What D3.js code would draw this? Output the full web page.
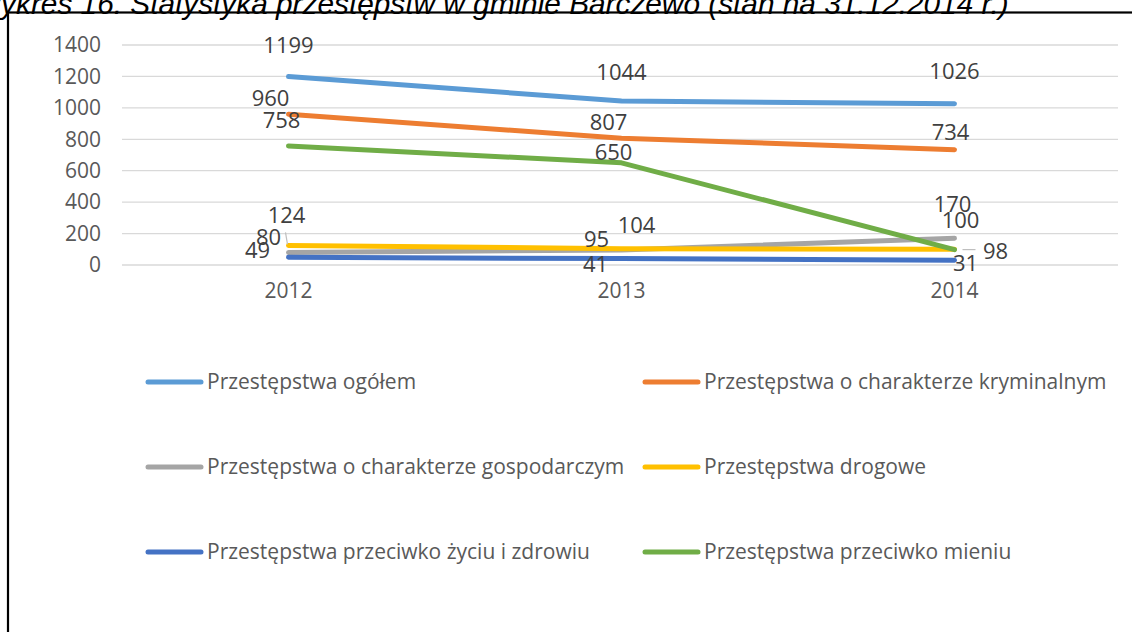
<!DOCTYPE html>
<html>
<head>
<meta charset="utf-8">
<script src="https://cdn.jsdelivr.net/npm/d3@7"></script>
<style>
	body { margin: 0; background: #fff; }
	svg { display: block; }
	text { font-family: 'Open Sans', sans-serif; }
</style>
</head>
<body>
<div id="chart"></div>
<script>
const years = ['2012', '2013', '2014'];
const seriesNames = [
	'Przestępstwa ogółem',
	'Przestępstwa o charakterze kryminalnym',
	'Przestępstwa o charakterze gospodarczym',
	'Przestępstwa drogowe',
	'Przestępstwa przeciwko życiu i zdrowiu',
	'Przestępstwa przeciwko mieniu'
];
const ogolem = [1199, 1044, 1026];
const kryminalne = [960, 807, 734];
const gospodarcze = [80, 95, 170];
const drogowe = [124, 104, 100];
const zycie = [49, 41, 31];
const mienie = [758, 650, 98];
const yTicks = [0, 200, 400, 600, 800, 1000, 1200, 1400];

const colors = ['#5B9BD5', '#ED7D31', '#A5A5A5', '#FFC000', '#4472C4', '#70AD47'];
// label offsets [dx, dy] from each point, as placed by hand in the original
const labelOffsets = [
	[[0, -31], [0, -29], [0, -32]],
	[[-18, -16], [-13, -16], [-4, -17]],
	[[-20, -15], [-25, -11], [-2, -34]],
	[[-2, -30], [15, -23], [6, -29]],
	[[-31, -7], [-26, 6], [11, 3]],
	[[-7, -26], [-8, -11], [41, 2]]
];

const allValues = [ogolem, kryminalne, gospodarcze, drogowe, zycie, mienie];
const series = seriesNames.map((name, i) => ({
	name: name,
	color: colors[i],
	values: allValues[i].map((v, j) => ({year: years[j], value: v}))
}));

const W = 1132, H = 632;
const margin = {top: 45, left: 122, right: 11, bottom: 367};

const svg = d3.select('#chart')
	.append('svg')
	.attr('width', W)
	.attr('height', H);

// page frame
svg.append('rect')
	.attr('x', 10).attr('y', 15)
	.attr('width', W + 20).attr('height', H)
	.attr('fill', 'none')
	.attr('stroke', '#c8c8c8')
	.attr('stroke-width', 2);
svg.append('rect')
	.attr('x', 8).attr('y', 12.5)
	.attr('width', W + 20).attr('height', H)
	.attr('fill', '#fff')
	.attr('stroke', '#000')
	.attr('stroke-width', 2.2);

// title, clipped by the top of the page
svg.append('text')
	.attr('x', -27)
	.attr('y', 14)
	.style('font-family', '"Liberation Sans", Arial, sans-serif')
	.style('font-style', 'italic')
	.style('font-size', '29.8px')
	.attr('fill', '#000')
	.text('Wykres 16. Statystyka przestępstw w gminie Barczewo (stan na 31.12.2014 r.)');

const xScale = d3.scaleBand()
	.domain(years)
	.range([margin.left, W - margin.right]);

const yScale = d3.scaleLinear()
	.domain([0, 1400])
	.range([H - margin.bottom, margin.top]);

// gridlines
svg.append('g')
	.selectAll('line')
	.data(yTicks)
	.join('line')
	.attr('x1', margin.left)
	.attr('x2', 1118)
	.attr('y1', d => yScale(d))
	.attr('y2', d => yScale(d))
	.attr('stroke', '#d9d9d9')
	.attr('stroke-width', 1.3);

const yAxis = d3.axisLeft(yScale)
	.tickValues(yTicks)
	.tickSize(0)
	.tickPadding(0)
	.tickFormat(d3.format('d'));

svg.append('g')
	.attr('class', 'y-axis')
	.attr('transform', 'translate(101, 0)')
	.call(yAxis)
	.call(g => g.select('.domain').remove())
	.call(g => g.selectAll('text')
		.attr('fill', '#595959')
		.style('font-size', '21px')
		.style('font-family', '"Open Sans", sans-serif'));

const xAxis = d3.axisBottom(xScale)
	.tickSize(0)
	.tickPadding(0);

svg.append('g')
	.attr('class', 'x-axis')
	.attr('transform', 'translate(0, 283)')
	.call(xAxis)
	.call(g => g.select('.domain').remove())
	.call(g => g.selectAll('text')
		.attr('fill', '#595959')
		.style('font-size', '21px')
		.style('font-family', '"Open Sans", sans-serif'));

const line = d3.line()
	.x(d => xScale(d.year) + xScale.bandwidth() / 2)
	.y(d => yScale(d.value));

svg.append('g')
	.selectAll('path')
	.data(series)
	.join('path')
	.attr('d', d => line(d.values))
	.attr('fill', 'none')
	.attr('stroke', d => d.color)
	.attr('stroke-width', 5)
	.attr('stroke-linecap', 'round')
	.attr('stroke-linejoin', 'round');

// data labels
const labels = [];
series.forEach((s, i) => {
	s.values.forEach((d, j) => {
		labels.push({
			x: xScale(d.year) + xScale.bandwidth() / 2,
			y: yScale(d.value),
			dx: labelOffsets[i][j][0],
			dy: labelOffsets[i][j][1],
			value: d.value
		});
	});
});

// leader lines for the two labels moved far from their points
svg.append('line')
	.attr('x1', xScale('2012') + xScale.bandwidth() / 2 - 1)
	.attr('y1', yScale(gospodarcze[0]) - 8)
	.attr('x2', xScale('2012') + xScale.bandwidth() / 2 - 3)
	.attr('y2', yScale(gospodarcze[0]) - 20)
	.attr('stroke', '#bfbfbf')
	.attr('stroke-width', 1.2);
svg.append('line')
	.attr('x1', xScale('2014') + xScale.bandwidth() / 2 + 8)
	.attr('y1', yScale(mienie[2]))
	.attr('x2', xScale('2014') + xScale.bandwidth() / 2 + 21)
	.attr('y2', yScale(mienie[2]))
	.attr('stroke', '#bfbfbf')
	.attr('stroke-width', 1.2);

svg.append('g')
	.selectAll('text')
	.data(labels)
	.join('text')
	.attr('x', d => d.x + d.dx)
	.attr('y', d => d.y + d.dy)
	.attr('dy', '0.35em')
	.attr('text-anchor', 'middle')
	.attr('fill', '#404040')
	.style('font-size', '22px')
	.text(d => d.value);

// legend
const legendX = [148, 645];
const legendY = [382, 467, 552];
const legend = svg.append('g')
	.selectAll('g')
	.data(series)
	.join('g')
	.attr('transform', (d, i) => `translate(${legendX[i % 2]}, ${legendY[Math.floor(i / 2)]})`);

legend.append('line')
	.attr('x1', 0)
	.attr('x2', 53)
	.attr('stroke', d => d.color)
	.attr('stroke-width', 5)
	.attr('stroke-linecap', 'round');

legend.append('text')
	.attr('x', 59)
	.attr('dy', '0.35em')
	.attr('fill', '#595959')
	.style('font-size', '21px')
	.text(d => d.name);
</script>
</body>
</html>
